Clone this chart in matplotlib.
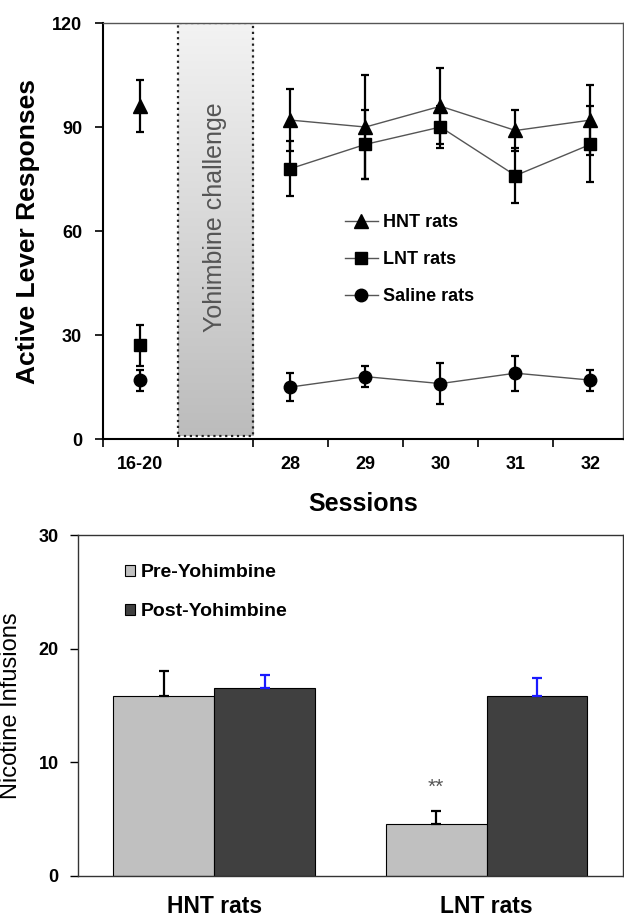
import numpy as np
import matplotlib
matplotlib.use('Agg')
import matplotlib.pyplot as plt
from matplotlib.colors import LinearSegmentedColormap
from matplotlib.patches import Rectangle

plt.rcParams['font.family'] = ['Liberation Sans', 'DejaVu Sans']

# ---- top panel: active lever responses per session ----
session_labels = ['16-20', '28', '29', '30', '31', '32']
session_pos = [0, 2, 3, 4, 5, 6]          # slot 1 is the yohimbine challenge
hnt_mean = [96, 92, 90, 96, 89, 92]
hnt_err = [7.5, 9, 15, 11, 6, 10]
lnt_mean = [27, 78, 85, 90, 76, 85]
lnt_err = [6, 8, 10, 6, 8, 11]
sal_mean = [17, 15, 18, 16, 19, 17]
sal_err = [3, 4, 3, 6, 5, 3]

# ---- bottom panel: nicotine infusions ----
groups = ['HNT rats', 'LNT rats']
pre_yoh = [15.8, 4.6]
pre_err = [2.2, 1.1]
post_yoh = [16.5, 15.8]
post_err = [1.2, 1.6]

fig = plt.figure(figsize=(6.24, 9.21), dpi=100)

ax1 = fig.add_axes([0.165, 0.5233, 0.833, 0.4517])
ax1.set_xlim(-0.5, 6.43)
ax1.set_ylim(0, 120)

# yohimbine band with vertical gradient and dotted border
grad = np.linspace(0, 1, 256).reshape(-1, 1)
cmap = LinearSegmentedColormap.from_list('band', ['#f3f3f3', '#bcbcbc'])
ax1.imshow(grad, extent=[0.5, 1.5, 1, 120], aspect='auto', cmap=cmap,
           origin='upper', zorder=0)
ax1.add_patch(Rectangle((0.5, 1), 1.0, 119, fill=False, ls=':', lw=1.6,
                        ec='#222222', zorder=1))
ax1.text(1.0, 64, 'Yohimbine challenge', rotation=90, ha='center',
         va='center', fontsize=18, color='#555555')

series = [
    ('HNT rats', hnt_mean, hnt_err, '^', 10),
    ('LNT rats', lnt_mean, lnt_err, 's', 8.5),
    ('Saline rats', sal_mean, sal_err, 'o', 9),
]
handles = []
for name, mean, err, mk, ms in series:
    ax1.errorbar(session_pos, mean, yerr=err, fmt='none', ecolor='black',
                 elinewidth=1.6, capsize=3, capthick=1.6, zorder=3)
    ln, = ax1.plot(session_pos[1:], mean[1:], color='#555555', lw=1.0,
                   marker=mk, ms=ms, mfc='black', mec='black', zorder=4,
                   label=name)
    ax1.plot(session_pos[:1], mean[:1], ls='none', marker=mk, ms=ms,
             mfc='black', mec='black', zorder=4)
    handles.append(ln)

ax1.legend(handles=handles, loc='upper left', bbox_to_anchor=(0.465, 0.54),
           frameon=False, borderpad=0, borderaxespad=0, handlelength=1.85,
           handletextpad=0.25, labelspacing=1.1,
           prop={'weight': 'bold', 'size': 13})

ax1.set_xticks(np.arange(-0.5, 6, 1.0))
ax1.set_xticklabels([])
ax1.set_xticks(session_pos, minor=True)
ax1.set_xticklabels(session_labels, minor=True, fontsize=13,
                    fontweight='bold')
ax1.tick_params(axis='x', which='major', direction='out', length=6,
                width=1.2)
ax1.tick_params(axis='x', which='minor', length=0, pad=12)
ax1.set_yticks([0, 30, 60, 90, 120])
ax1.tick_params(axis='y', direction='out', length=6, width=1.2, pad=9,
                labelsize=13)
for lab in ax1.get_yticklabels():
    lab.set_fontweight('bold')
ax1.set_xlabel('Sessions', fontsize=18, fontweight='bold', labelpad=14)
ax1.set_ylabel('Active Lever Responses', fontsize=19, fontweight='bold',
               labelpad=9)
for side in ['left', 'bottom']:
    ax1.spines[side].set_linewidth(1.5)
    ax1.spines[side].set_color('black')
for side in ['top', 'right']:
    ax1.spines[side].set_linewidth(1.0)
    ax1.spines[side].set_color('#555555')

# ---- bottom bars ----
ax2 = fig.add_axes([0.125, 0.0489, 0.873, 0.3702])
x = np.arange(len(groups))
w = 0.37
ax2.bar(x - w / 2, pre_yoh, w, color='#c0c0c0', edgecolor='black',
        lw=0.8, label='Pre-Yohimbine', zorder=2)
ax2.bar(x + w / 2, post_yoh, w, color='#404040', edgecolor='black',
        lw=0.8, label='Post-Yohimbine', zorder=2)
ax2.errorbar(x - w / 2, pre_yoh, yerr=[np.zeros(2), pre_err], fmt='none',
             ecolor='black', elinewidth=1.6, capsize=3.5, capthick=1.6,
             zorder=3)
ax2.errorbar(x + w / 2, post_yoh, yerr=[np.zeros(2), post_err], fmt='none',
             ecolor='#1a1aff', elinewidth=1.6, capsize=3.5, capthick=1.6,
             zorder=3)
ax2.text(x[1] - w / 2, 7.8, '**', ha='center', va='center', fontsize=15,
         color='#555555')

ax2.set_xlim(-0.5, 1.5)
ax2.set_ylim(0, 30)
ax2.set_yticks([0, 10, 20, 30])
ax2.set_xticks(x)
ax2.set_xticklabels(groups, fontsize=16.5, fontweight='bold')
ax2.tick_params(axis='x', length=0, pad=14)
ax2.tick_params(axis='y', direction='out', length=6, width=1.0, pad=8,
                labelsize=13)
for lab in ax2.get_yticklabels():
    lab.set_fontweight('bold')
ax2.set_ylabel('Nicotine Infusions', fontsize=17, labelpad=12)
for side in ax2.spines:
    ax2.spines[side].set_linewidth(1.0)
    ax2.spines[side].set_color('#333333')

ax2.legend(loc='upper left', bbox_to_anchor=(0.086, 0.915), frameon=False,
           borderpad=0, borderaxespad=0, handlelength=0.5,
           handleheight=0.5, handletextpad=0.3, labelspacing=1.15,
           prop={'weight': 'bold', 'size': 14})

plt.savefig('out.png', dpi=100)
